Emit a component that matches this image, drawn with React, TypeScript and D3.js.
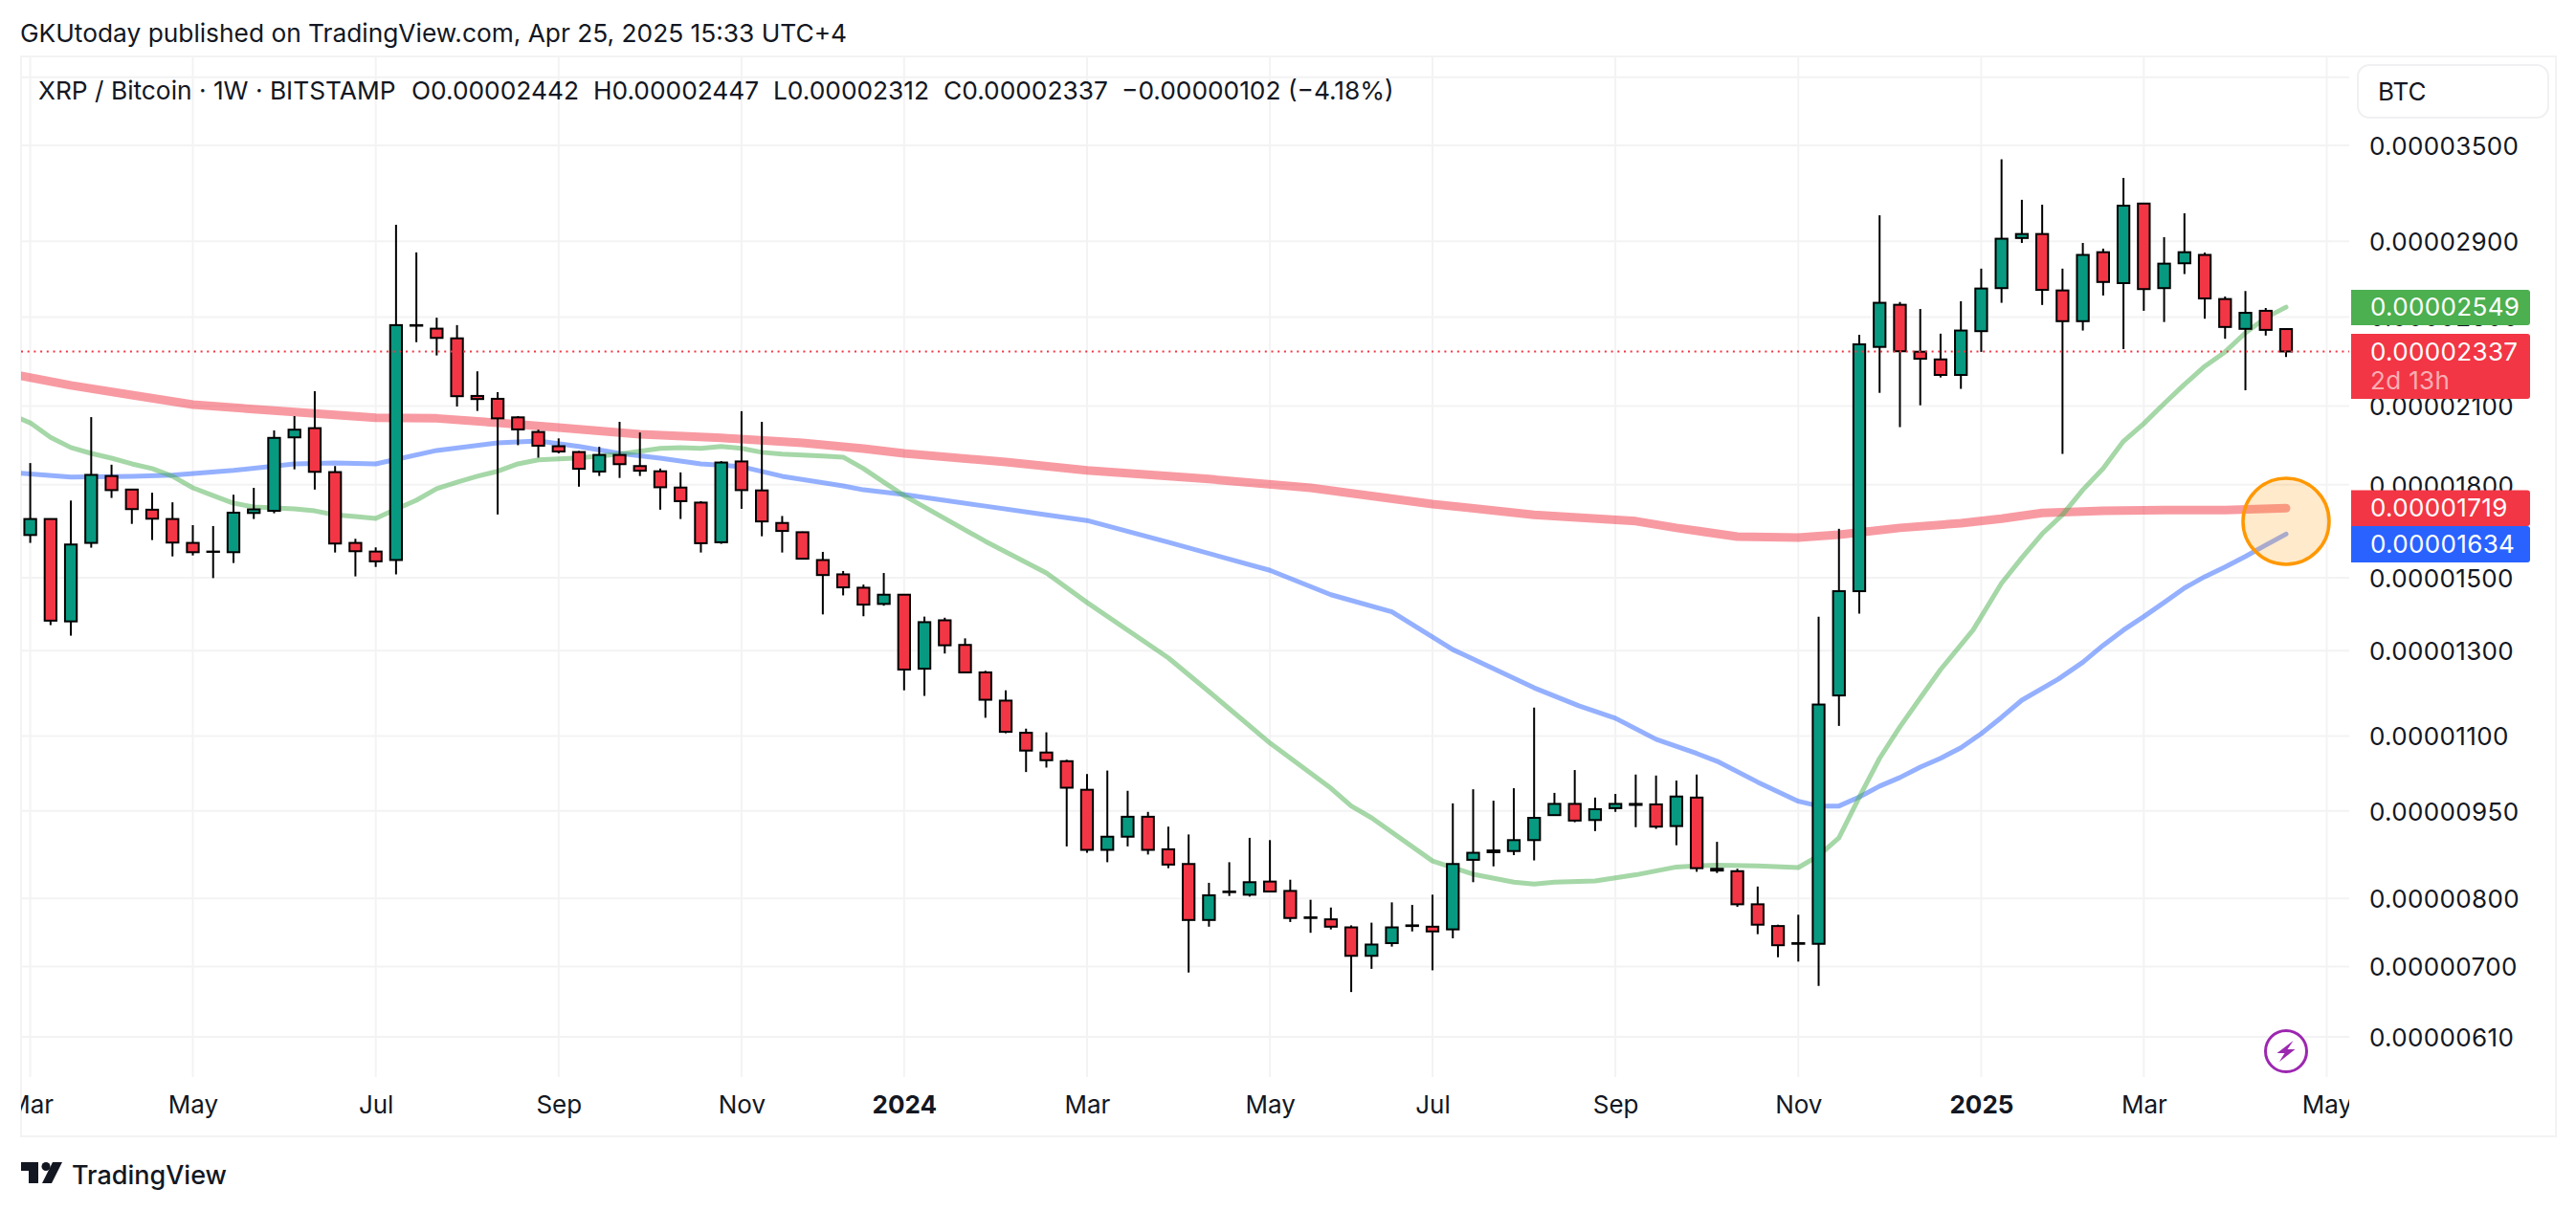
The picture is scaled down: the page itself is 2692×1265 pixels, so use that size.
import { useRef, useEffect } from 'react'
import * as d3 from 'd3'

// prices are in 1e-8 BTC, weekly candles, index 0 is the first visible week
const opens = [1631, 1683, 1377, 1606, 1831, 1783, 1714, 1683, 1606, 1579, 1577, 1703, 1710, 1975, 2011, 1845, 1606, 1579, 1553, 2461, 2444, 2398, 2142, 2130, 2054, 1996, 1941, 1919, 1847, 1908, 1867, 1848, 1790, 1738, 1608, 1884, 1780, 1670, 1640, 1553, 1510, 1471, 1425, 1451, 1255, 1380, 1315, 1246, 1179, 1107, 1065, 1047, 990, 880, 903, 939, 881, 856, 767, 810, 806, 827, 812, 771, 768, 756, 715, 733, 758, 757, 753, 863, 876, 878, 897, 942, 963, 933, 955, 961, 962, 922, 975, 848, 844, 791, 758, 733, 732, 1191, 1461, 2358, 2561, 2336, 2301, 2232, 2432, 2646, 2919, 2942, 2634, 2480, 2839, 2672, 3123, 2646, 2778, 2824, 2590, 2443, 2531, 2442]
const highs = [1878, 1685, 1745, 2055, 1872, 1785, 1772, 1739, 1663, 1660, 1765, 1789, 2002, 2059, 2162, 1867, 1619, 1592, 2996, 2838, 2497, 2461, 2248, 2158, 2059, 2005, 1971, 1923, 1939, 2036, 1994, 1858, 1844, 1743, 1885, 2079, 2036, 1693, 1642, 1578, 1520, 1480, 1514, 1453, 1390, 1387, 1332, 1250, 1203, 1116, 1108, 1050, 1021, 1028, 988, 948, 921, 907, 825, 859, 901, 897, 830, 798, 786, 759, 763, 794, 790, 806, 964, 991, 969, 993, 1163, 984, 1029, 975, 982, 1020, 1018, 1008, 1020, 894, 848, 819, 760, 775, 1390, 1651, 2415, 3052, 2575, 2540, 2420, 2579, 2749, 3406, 3146, 3116, 2749, 2891, 2859, 3284, 3125, 2924, 3064, 2837, 2603, 2631, 2545, 2447]
const lows = [1606, 1367, 1339, 1591, 1754, 1667, 1615, 1564, 1567, 1499, 1544, 1683, 1702, 1855, 1783, 1576, 1504, 1532, 1510, 2380, 2319, 2098, 2080, 1698, 1945, 1898, 1914, 1793, 1831, 1824, 1831, 1714, 1683, 1576, 1603, 1717, 1627, 1576, 1555, 1396, 1449, 1391, 1420, 1203, 1190, 1293, 1245, 1140, 1106, 1025, 1034, 886, 875, 859, 886, 872, 849, 692, 757, 804, 803, 810, 764, 748, 753, 666, 697, 728, 750, 695, 740, 826, 852, 871, 862, 941, 929, 913, 948, 920, 917, 888, 843, 841, 787, 746, 713, 707, 674, 1122, 1398, 2155, 2015, 2103, 2221, 2172, 2335, 2571, 2891, 2560, 1912, 2435, 2608, 2348, 2531, 2476, 2720, 2492, 2396, 2166, 2411, 2312]
const closes = [1683, 1379, 1601, 1835, 1781, 1716, 1684, 1607, 1577, 1578, 1704, 1715, 1973, 2005, 1846, 1604, 1580, 1549, 2461, 2458, 2400, 2141, 2129, 2050, 2006, 1943, 1921, 1857, 1908, 1874, 1850, 1791, 1743, 1605, 1880, 1781, 1675, 1644, 1557, 1508, 1472, 1423, 1451, 1253, 1375, 1314, 1246, 1181, 1109, 1069, 1049, 994, 880, 903, 939, 880, 855, 767, 805, 811, 826, 811, 770, 770, 757, 715, 731, 756, 759, 750, 856, 875, 879, 897, 937, 963, 932, 953, 963, 963, 921, 977, 849, 845, 791, 760, 730, 732, 1170, 1461, 2370, 2571, 2338, 2304, 2232, 2435, 2644, 2915, 2942, 2637, 2480, 2824, 2678, 3110, 2641, 2776, 2839, 2593, 2452, 2521, 2438, 2337]

// moving averages, read at the weeks listed next to them
const slowWeeks = [-0.45, 2, 5, 8, 12, 17, 20, 23, 26, 30, 34, 38, 41, 43, 48, 52, 58, 63, 69, 74, 79, 81, 84, 87, 89, 92, 95, 97, 99, 102, 105, 108, 111]
const slowMa = [2228, 2187, 2146, 2106, 2081, 2052, 2050, 2032, 2013, 1987, 1973, 1954, 1932, 1914, 1882, 1851, 1820, 1789, 1733, 1697, 1676, 1654, 1626, 1623, 1632, 1654, 1669, 1684, 1703, 1710, 1713, 1713, 1719]
const midWeeks = [-0.45, 2, 5, 7, 10, 13, 15, 17, 20, 23, 25, 27, 29, 31, 33, 35, 37, 40, 41, 43, 47, 50, 52, 56, 61, 64, 67, 70, 74, 76.2, 78, 80, 82, 83, 85, 87, 88, 89, 90, 91, 92, 93, 94, 95, 96, 97, 98, 99.8, 101, 102, 103, 104, 105, 106, 107, 108, 109, 110, 111]
const midMa = [1841, 1827, 1830, 1834, 1851, 1875, 1878, 1875, 1925, 1954, 1961, 1940, 1914, 1896, 1875, 1865, 1830, 1796, 1782, 1766, 1726, 1697, 1678, 1608, 1522, 1451, 1403, 1303, 1209, 1167, 1139, 1093, 1063, 1047, 1005, 968, 959, 959, 976, 997, 1014, 1035, 1053, 1075, 1105, 1141, 1180, 1230, 1271, 1314, 1354, 1390, 1429, 1470, 1503, 1532, 1564, 1599, 1634]
const fastWeeks = [-0.45, 0, 1, 2, 3, 4, 5, 6, 7, 8, 9, 10, 11, 12, 13, 14, 15, 16, 17, 18, 19, 20, 21, 22, 23, 24, 25, 26, 27, 28, 29, 30, 31, 32, 33, 34, 35, 36, 37, 38, 39, 40, 41, 42, 43, 47, 50, 52, 56, 58, 61, 64, 65, 66, 69, 71, 73, 74, 75, 77, 79, 81, 82, 83, 85, 87, 88, 89, 90, 91, 92, 93, 94, 95.6, 97, 98, 99, 100, 101, 102, 103, 104, 105, 106, 107, 108, 109, 110, 111]
const fastMa = [2047, 2032, 1975, 1936, 1914, 1896, 1875, 1858, 1830, 1789, 1762, 1736, 1723, 1720, 1717, 1710, 1697, 1691, 1685, 1716, 1746, 1786, 1809, 1830, 1848, 1875, 1890, 1893, 1897, 1904, 1911, 1922, 1933, 1936, 1933, 1940, 1933, 1918, 1911, 1908, 1904, 1900, 1858, 1809, 1762, 1611, 1514, 1429, 1282, 1200, 1085, 993, 959, 937, 861, 839, 826, 823, 826, 828, 838, 851, 853, 854, 853, 850, 870, 901, 976, 1053, 1120, 1185, 1253, 1354, 1484, 1560, 1635, 1697, 1782, 1858, 1960, 2029, 2110, 2191, 2270, 2335, 2424, 2497, 2549]

const gridPrices = [4000, 3500, 2900, 2500, 2100, 1800, 1500, 1300, 1100, 950, 800, 700, 610]
// 4000 sits behind the currency button, so it gets a grid line and no label
const labelPrices = [3500, 2900, 2500, 2100, 1800, 1500, 1300, 1100, 950, 800, 700, 610]
const monthWeeks = [0, 8, 17, 26, 35, 43, 52, 61, 69, 78, 87, 96, 104, 113]
const monthLabels = ['Mar', 'May', 'Jul', 'Sep', 'Nov', '2024', 'Mar', 'May', 'Jul', 'Sep', 'Nov', '2025', 'Mar', 'May']

const UP = '#089981'
const DOWN = '#F23645'
const FONT = 'Inter, sans-serif'
const GRID = '#f3f3f4'
const INK = '#131722'

const fmtPrice = (v: number) => `0.${String(v).padStart(8, '0')}`

export default function App() {
  const svgRef = useRef<SVGSVGElement>(null)

  useEffect(() => {
    if (!svgRef.current) return
    const svg = d3.select(svgRef.current)
    svg.selectAll('*').remove()

    const width = 2692
    const height = 1265
    const plot = { left: 22, right: 2455, top: 59, bottom: 1126 }
    const frame = { right: 2671, bottom: 1188 }

    svg.attr('width', width).attr('height', height).attr('viewBox', `0 0 ${width} ${height}`)
    svg.append('rect').attr('width', width).attr('height', height).attr('fill', '#fff')

    const x = d3.scaleLinear().domain([0, 111]).range([31.6, 2389])
    const y = d3.scaleLog().domain([610, 3500]).range([1084, 152])

    const defs = svg.append('defs')
    defs.append('clipPath').attr('id', 'plot-clip').append('rect')
      .attr('x', plot.left).attr('y', plot.top)
      .attr('width', plot.right - plot.left).attr('height', plot.bottom - plot.top)
    defs.append('clipPath').attr('id', 'time-clip').append('rect')
      .attr('x', plot.left).attr('y', plot.bottom)
      .attr('width', plot.right - plot.left).attr('height', frame.bottom - plot.bottom)

    // Frame
    svg.append('rect')
      .attr('x', plot.left).attr('y', plot.top)
      .attr('width', frame.right - plot.left).attr('height', frame.bottom - plot.top)
      .attr('fill', 'none').attr('stroke', GRID).attr('stroke-width', 2)

    // Grid
    svg.append('g').selectAll('line').data(gridPrices).join('line')
      .attr('x1', plot.left).attr('x2', plot.right)
      .attr('y1', d => y(d)).attr('y2', d => y(d))
      .attr('stroke', GRID).attr('stroke-width', 2)
    svg.append('g').selectAll('line').data(monthWeeks).join('line')
      .attr('x1', d => x(d)).attr('x2', d => x(d))
      .attr('y1', plot.top).attr('y2', plot.bottom)
      .attr('stroke', GRID).attr('stroke-width', 2)

    // Price axis
    const priceAxis = svg.append('g')
      .attr('transform', `translate(${plot.right + 21},1)`)
      .call(d3.axisRight(y).tickValues(labelPrices).tickSize(0).tickPadding(0).tickFormat(d => fmtPrice(+d)))
    priceAxis.select('.domain').remove()
    priceAxis.selectAll('text')
      .style('font-family', FONT).style('font-size', '26px').style('fill', INK)
      .style('letter-spacing', '0.35px')

    // Time axis
    const timeAxis = svg.append('g')
      .attr('clip-path', 'url(#time-clip)')
      .append('g')
      .attr('transform', `translate(0,${plot.bottom + 20})`)
      .call(d3.axisBottom(x).tickValues(monthWeeks).tickSize(0).tickPadding(0)
        .tickFormat((_, i) => monthLabels[i]))
    timeAxis.select('.domain').remove()
    timeAxis.selectAll('text')
      .style('font-family', FONT).style('font-size', '26px').style('fill', INK)
      .style('font-weight', (_, i) => (monthLabels[i].length === 4 ? '700' : '400'))

    // Moving averages, under the candles
    const chart = svg.append('g').attr('clip-path', 'url(#plot-clip)')
    const drawMa = (weeks: number[], vals: number[], color: string, w: number) => {
      const line = d3.line<number>().x((_, i) => x(weeks[i])).y(d => y(d))
      chart.append('path')
        .attr('d', line(vals))
        .attr('fill', 'none').attr('stroke', color).attr('stroke-width', w)
        .attr('stroke-opacity', 0.5).attr('stroke-linecap', 'round').attr('stroke-linejoin', 'round')
    }
    drawMa(slowWeeks, slowMa, DOWN, 9)
    drawMa(midWeeks, midMa, '#2962FF', 5)
    drawMa(fastWeeks, fastMa, '#4CAF50', 5)

    // Candles
    const candles = opens.map((o, i) => ({ i, o, h: highs[i], l: lows[i], c: closes[i] }))
    const bodyW = 12.3
    chart.append('g').selectAll('line').data(candles).join('line')
      .attr('x1', d => x(d.i)).attr('x2', d => x(d.i))
      .attr('y1', d => y(d.h)).attr('y2', d => y(d.l))
      .attr('stroke', '#000').attr('stroke-width', 2)
    chart.append('g').selectAll('rect').data(candles).join('rect')
      .attr('x', d => x(d.i) - bodyW / 2)
      .attr('width', bodyW)
      .attr('y', d => y(Math.max(d.o, d.c)))
      .attr('height', d => Math.abs(y(d.o) - y(d.c)))
      .attr('fill', d => (d.c >= d.o ? UP : DOWN))
      .attr('stroke', '#000').attr('stroke-width', 2)

    // Last price line
    const last = closes[closes.length - 1]
    chart.append('line')
      .attr('x1', plot.left).attr('x2', plot.right)
      .attr('y1', y(last)).attr('y2', y(last))
      .attr('stroke', DOWN).attr('stroke-width', 2).attr('stroke-dasharray', '2 4.7')

    // Highlight circle on the MA ends
    svg.append('circle')
      .attr('cx', x(111)).attr('cy', 545).attr('r', 45)
      .attr('fill', 'rgba(255,152,0,0.2)').attr('stroke', '#FF9800').attr('stroke-width', 3.5)

    // Bolt mark
    const bolt = svg.append('g').attr('transform', `translate(${x(111)},1099)`)
    bolt.append('circle').attr('r', 21.5).attr('fill', '#fff').attr('stroke', '#9C27B0').attr('stroke-width', 3)
    bolt.append('path').attr('d', 'M7.5 -11 L-9.5 2 L-1.5 2 L-7 11 L9.5 -2 L1.5 -2 Z').attr('fill', '#9C27B0')

    // Price labels
    const labelX = 2457
    const labelW = 187
    const tag = (yTop: number, h: number, fill: string) =>
      svg.append('path')
        .attr('d', `M${labelX} ${yTop}H${labelX + labelW - 3}a3 3 0 0 1 3 3V${yTop + h - 3}a3 3 0 0 1 -3 3H${labelX}Z`)
        .attr('fill', fill)
    const tagText = (cy: number, s: string, fill = '#fff') =>
      svg.append('text')
        .attr('x', 2477).attr('y', cy).attr('dy', '0.36em')
        .style('font-family', FONT).style('font-size', '26px').style('fill', fill)
        .style('letter-spacing', '0.35px')
        .text(s)
    tag(303, 37, '#4CAF50')
    tagText(321, fmtPrice(fastMa[fastMa.length - 1]))
    tag(349, 68, DOWN)
    tagText(367.5, fmtPrice(last))
    tagText(398, '2d 13h', 'rgba(255,255,255,0.6)')
    tag(512.5, 37.5, DOWN)
    tagText(531, fmtPrice(slowMa[slowMa.length - 1]))
    tag(550, 38, '#2962FF')
    tagText(569, fmtPrice(midMa[midMa.length - 1]))

    // Currency button
    svg.append('rect')
      .attr('x', 2464).attr('y', 68).attr('width', 199).attr('height', 55).attr('rx', 12)
      .attr('fill', '#fff').attr('stroke', '#f0f0f3').attr('stroke-width', 2)
    svg.append('text')
      .attr('x', 2485).attr('y', 96).attr('dy', '0.36em')
      .style('font-family', FONT).style('font-size', '26px').style('fill', INK)
      .text('BTC')

    // Header texts
    const head = (tx: number, ty: number, s: string) =>
      svg.append('text')
        .attr('x', tx).attr('y', ty).attr('dy', '0.36em')
        .style('font-family', FONT).style('font-size', '26.3px').style('fill', INK)
        .text(s)
    head(21, 35, 'GKUtoday published on TradingView.com, Apr 25, 2025 15:33 UTC+4')
    head(40, 95, 'XRP / Bitcoin · 1W · BITSTAMP')
    head(430, 95, 'O0.00002442')
    head(620, 95, 'H0.00002447')
    head(808, 95, 'L0.00002312')
    head(986, 95, 'C0.00002337')
    head(1172, 95, '−0.00000102 (−4.18%)')

    // TradingView logo
    const logo = svg.append('g').attr('fill', '#131722')
    logo.append('path').attr('d', 'M22 1215H40V1237H30V1224H22Z')
    logo.append('circle').attr('cx', 48).attr('cy', 1219.5).attr('r', 4.5)
    logo.append('path').attr('d', 'M55 1215H65L54 1237H44Z')
    svg.append('text')
      .attr('x', 75).attr('y', 1228).attr('dy', '0.36em')
      .style('font-family', FONT).style('font-size', '27px').style('font-weight', '500').style('fill', '#131722')
      .text('TradingView')
  }, [])

  return <svg ref={svgRef} style={{ position: 'absolute', left: 0, top: 0, display: 'block' }} />
}
